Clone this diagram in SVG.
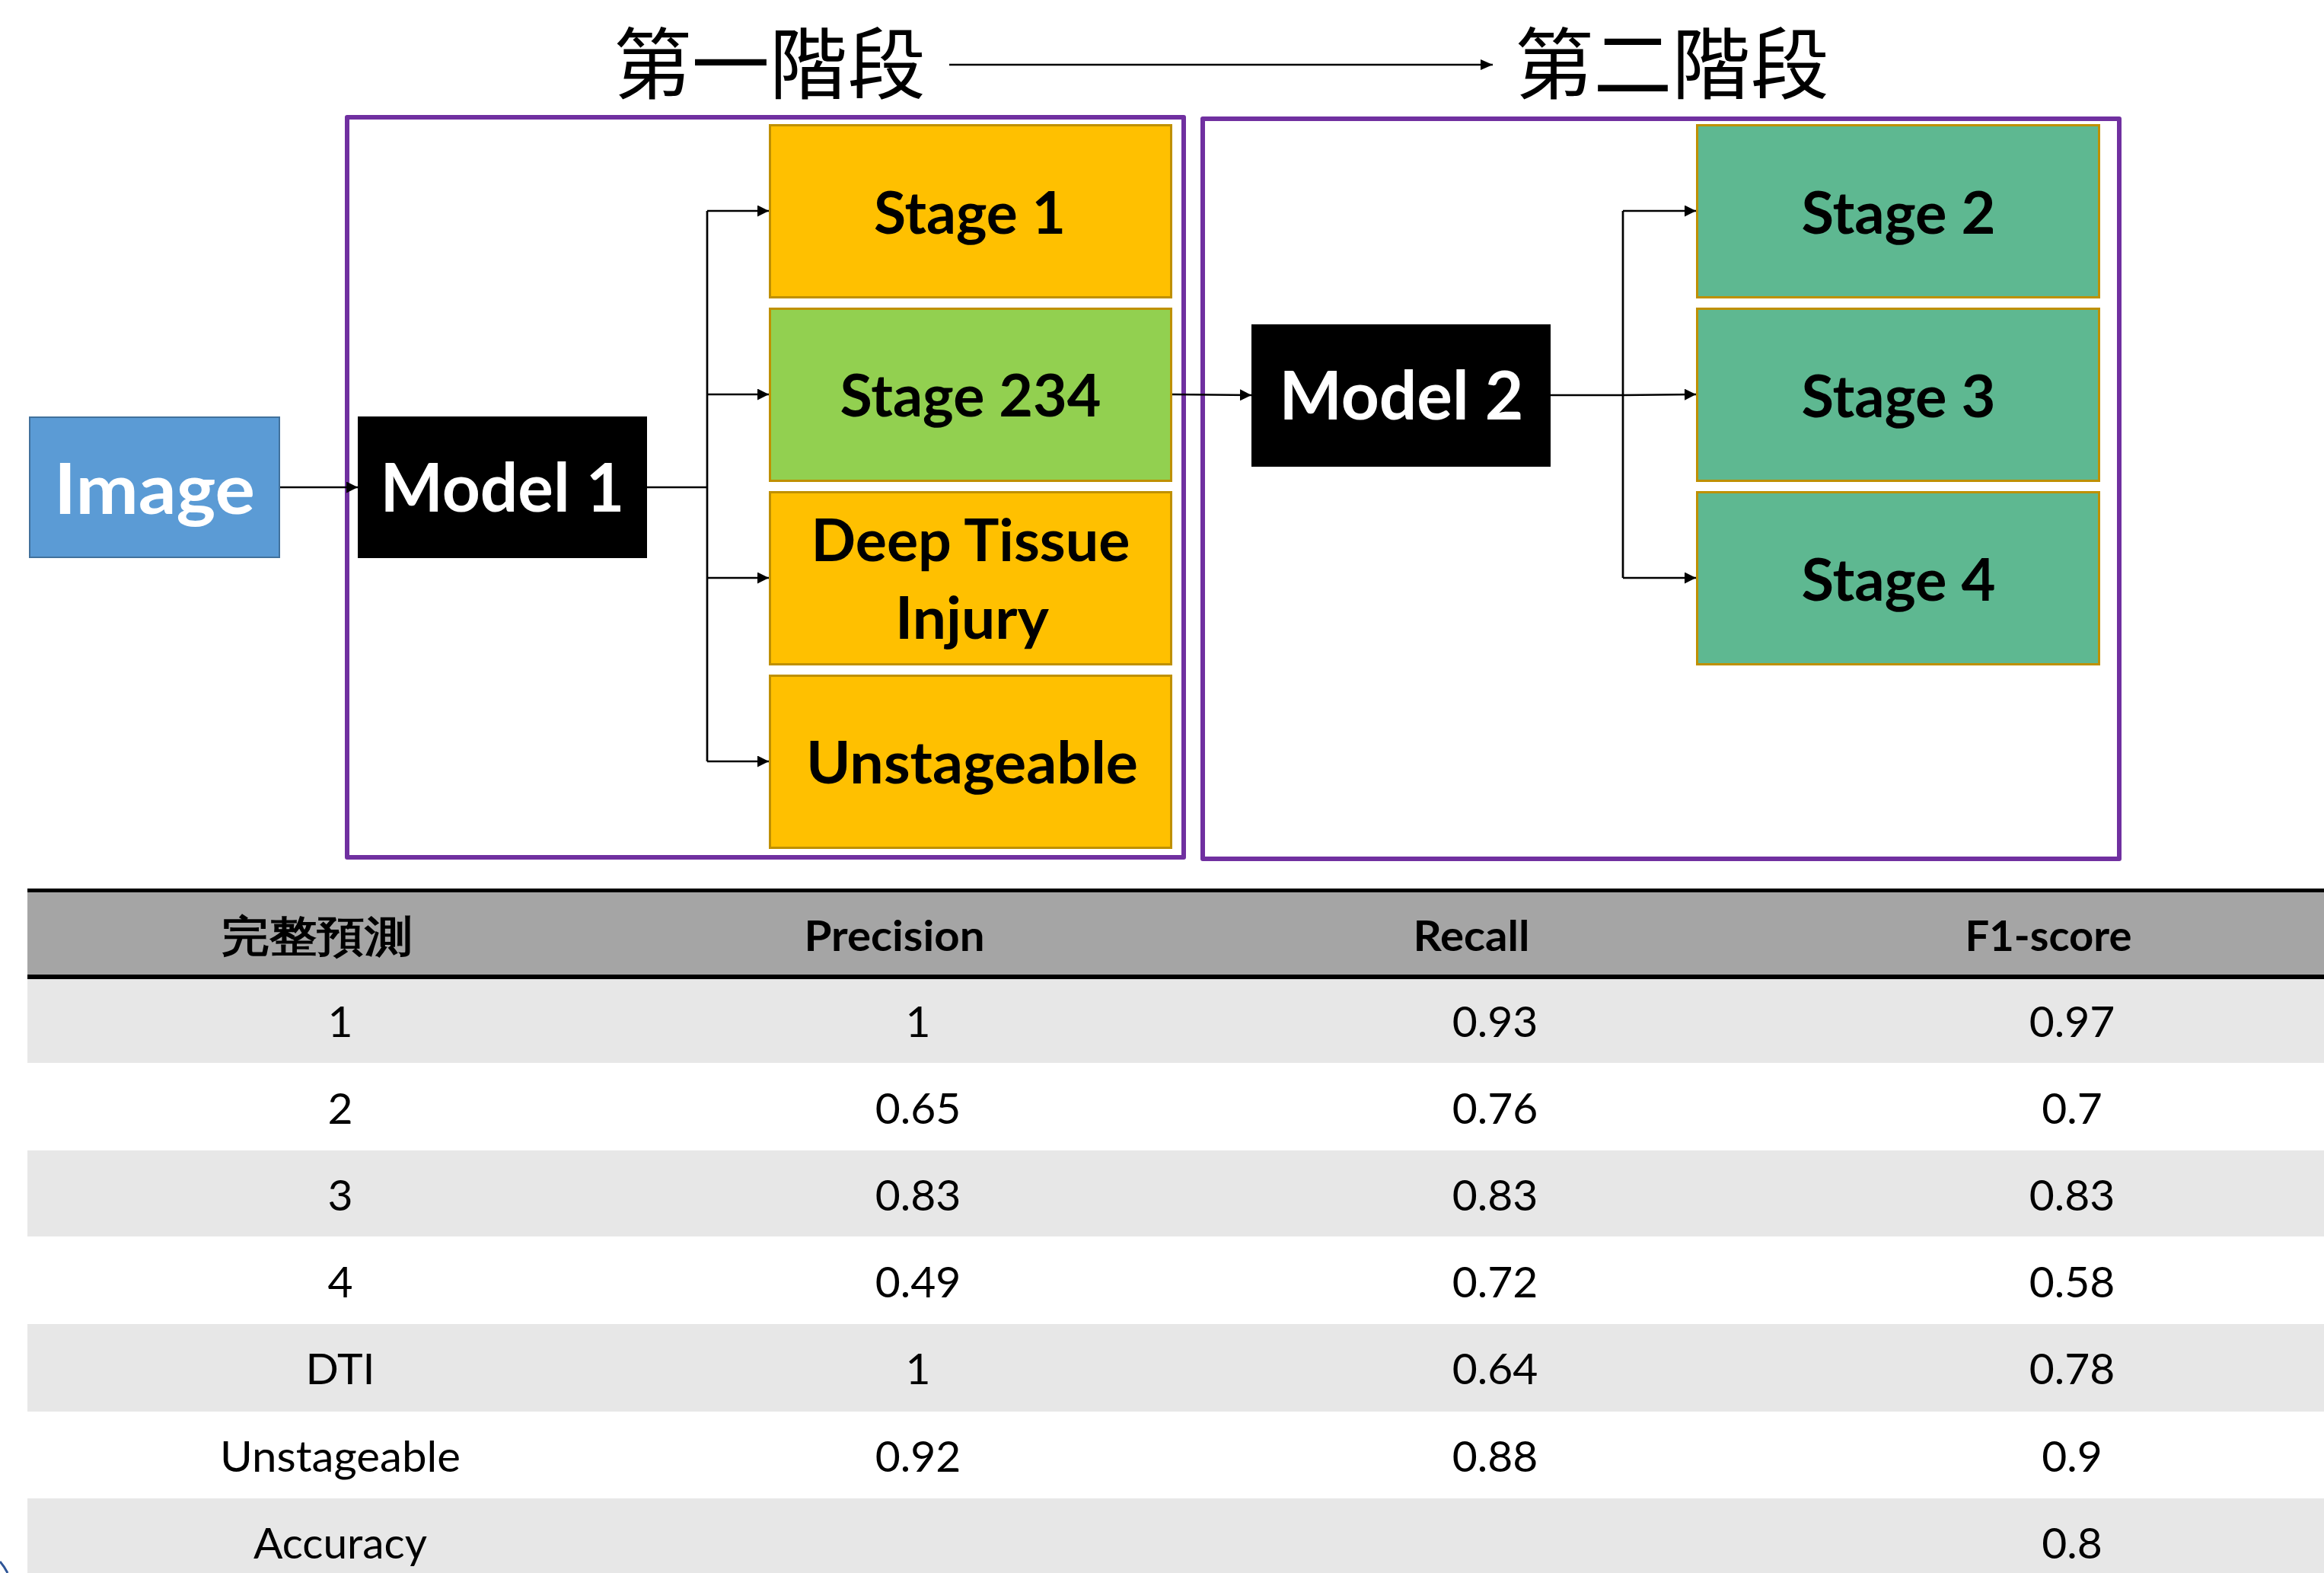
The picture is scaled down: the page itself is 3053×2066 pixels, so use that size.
<svg xmlns="http://www.w3.org/2000/svg" width="3053" height="2066" viewBox="0 0 3053 2066">
<style>
.lbl{font-family:Lato,"Liberation Sans",sans-serif;font-weight:700;text-anchor:middle}
.blk{fill:#000}
.wht{fill:#fff}
.cjk{font-family:"Noto Sans CJK TC","Noto Sans CJK SC",sans-serif;font-weight:400;text-anchor:start}
.stg{stroke:#BF9000;stroke-width:3}
.conn{fill:none;stroke:#000;stroke-width:2.7}
.grp{fill:none;stroke:#7030A0;stroke-width:6;stroke-linejoin:round}
.td{font-family:Lato,"Liberation Sans",sans-serif;font-size:57px;text-anchor:middle;fill:#000}
.th{font-family:Lato,"Liberation Sans",sans-serif;font-size:56px;font-weight:700;text-anchor:middle;fill:#000}
</style>
<defs>
<marker id="arr" markerUnits="userSpaceOnUse" markerWidth="15" markerHeight="15" refX="15" refY="7.5" orient="auto">
<path d="M0,0 L15,7.5 L0,15 z" fill="#000"/>
</marker>
<marker id="arrT" markerUnits="userSpaceOnUse" markerWidth="16" markerHeight="14" refX="16" refY="7" orient="auto">
<path d="M0,0 L16,7 L0,14 z" fill="#000"/>
</marker>
</defs>
<rect width="3053" height="2066" fill="#fff"/>

<g id="title">
<text class="cjk" x="806" y="122" font-size="102" textLength="410" lengthAdjust="spacingAndGlyphs">第一階段</text>
<text class="cjk" x="1990" y="122" font-size="102" textLength="413" lengthAdjust="spacingAndGlyphs">第二階段</text>
</g>

<g id="stage-groups">
<rect id="group1" class="grp" x="456" y="154" width="1099" height="972"/>
<rect id="group2" class="grp" x="1580" y="156" width="1204" height="972"/>
</g>

<g id="connectors">
<line class="conn" x1="1247" y1="85" x2="1961" y2="85" marker-end="url(#arrT)"/>
<line class="conn" x1="368" y1="640" x2="470" y2="640" marker-end="url(#arr)"/>
<line class="conn" x1="850" y1="640" x2="929" y2="640"/>
<line class="conn" x1="929" y1="277" x2="929" y2="1000"/>
<line class="conn" x1="929" y1="277" x2="1010" y2="277" marker-end="url(#arr)"/>
<line class="conn" x1="929" y1="518" x2="1010" y2="518" marker-end="url(#arr)"/>
<line class="conn" x1="929" y1="759" x2="1010" y2="759" marker-end="url(#arr)"/>
<line class="conn" x1="929" y1="1000" x2="1010" y2="1000" marker-end="url(#arr)"/>
<line class="conn" x1="1540" y1="518" x2="1644" y2="519" marker-end="url(#arr)"/>
<line class="conn" x1="2037" y1="519" x2="2132" y2="519"/>
<line class="conn" x1="2132" y1="277" x2="2132" y2="759"/>
<line class="conn" x1="2132" y1="277" x2="2228" y2="277" marker-end="url(#arr)"/>
<line class="conn" x1="2132" y1="519" x2="2228" y2="518" marker-end="url(#arr)"/>
<line class="conn" x1="2132" y1="759" x2="2228" y2="759" marker-end="url(#arr)"/>
</g>

<g id="image">
<rect x="39" y="548" width="328" height="184" fill="#5B9BD5" stroke="#41719C" stroke-width="2"/>
<text class="lbl wht" x="203" y="675" font-size="92" textLength="264" lengthAdjust="spacingAndGlyphs">Image</text>
</g>
<g id="model1">
<rect x="470" y="547" width="380" height="186" fill="#000"/>
<text class="lbl wht" x="660" y="672" font-size="88" textLength="321" lengthAdjust="spacingAndGlyphs">Model 1</text>
</g>
<g id="stage1">
<rect class="stg" x="1011.5" y="164.5" width="527" height="226" fill="#FFC000"/>
<text class="lbl blk" x="1274" y="307" font-size="76" textLength="252" lengthAdjust="spacingAndGlyphs">Stage 1</text>
</g>
<g id="stage234">
<rect class="stg" x="1011.5" y="405.5" width="527" height="226" fill="#92D050"/>
<text class="lbl blk" x="1275" y="547" font-size="76" textLength="343" lengthAdjust="spacingAndGlyphs">Stage 234</text>
</g>
<g id="dti">
<rect class="stg" x="1011.5" y="646.5" width="527" height="226" fill="#FFC000"/>
<text class="lbl blk" x="1275" y="737" font-size="76" textLength="419" lengthAdjust="spacingAndGlyphs">Deep Tissue</text>
<text class="lbl blk" x="1277" y="839" font-size="76" textLength="202" lengthAdjust="spacingAndGlyphs">Injury</text>
</g>
<g id="unstageable">
<rect class="stg" x="1011.5" y="887.5" width="527" height="226" fill="#FFC000"/>
<text class="lbl blk" x="1277" y="1029" font-size="76" textLength="436" lengthAdjust="spacingAndGlyphs">Unstageable</text>
</g>
<g id="model2">
<rect x="1644" y="426" width="393" height="187" fill="#000"/>
<text class="lbl wht" x="1841" y="551" font-size="88" textLength="321" lengthAdjust="spacingAndGlyphs">Model 2</text>
</g>
<g id="stage2">
<rect class="stg" x="2229.5" y="164.5" width="528" height="226" fill="#5EB891"/>
<text class="lbl blk" x="2494" y="307" font-size="76" textLength="255" lengthAdjust="spacingAndGlyphs">Stage 2</text>
</g>
<g id="stage3">
<rect class="stg" x="2229.5" y="405.5" width="528" height="226" fill="#5EB891"/>
<text class="lbl blk" x="2494" y="548" font-size="76" textLength="255" lengthAdjust="spacingAndGlyphs">Stage 3</text>
</g>
<g id="stage4">
<rect class="stg" x="2229.5" y="646.5" width="528" height="226" fill="#5EB891"/>
<text class="lbl blk" x="2494" y="789" font-size="76" textLength="255" lengthAdjust="spacingAndGlyphs">Stage 4</text>
</g>

<g id="table">
<rect x="36" y="1172" width="3017" height="108" fill="#A5A5A5"/>
<rect x="36" y="1167" width="3017" height="5" fill="#000"/>
<rect x="36" y="1280" width="3017" height="6" fill="#000"/>
<rect x="36" y="1286" width="3017" height="110" fill="#E7E7E7"/>
<rect x="36" y="1511" width="3017" height="113" fill="#E7E7E7"/>
<rect x="36" y="1739" width="3017" height="115" fill="#E7E7E7"/>
<rect x="36" y="1968" width="3017" height="98" fill="#E7E7E7"/>
<text class="th" x="416" y="1249" font-family="'Noto Sans CJK TC',sans-serif" textLength="250" lengthAdjust="spacingAndGlyphs">完整預測</text>
<text class="th" x="1175" y="1249" textLength="237" lengthAdjust="spacingAndGlyphs">Precision</text>
<text class="th" x="1933" y="1249" textLength="153" lengthAdjust="spacingAndGlyphs">Recall</text>
<text class="th" x="2691" y="1249" textLength="219" lengthAdjust="spacingAndGlyphs">F1-score</text>
<g>
<text class="td" x="447" y="1362">1</text><text class="td" x="1206" y="1362">1</text><text class="td" x="1964" y="1362">0.93</text><text class="td" x="2722" y="1362">0.97</text>
<text class="td" x="447" y="1476">2</text><text class="td" x="1206" y="1476">0.65</text><text class="td" x="1964" y="1476">0.76</text><text class="td" x="2722" y="1476">0.7</text>
<text class="td" x="447" y="1590">3</text><text class="td" x="1206" y="1590">0.83</text><text class="td" x="1964" y="1590">0.83</text><text class="td" x="2722" y="1590">0.83</text>
<text class="td" x="447" y="1704">4</text><text class="td" x="1206" y="1704">0.49</text><text class="td" x="1964" y="1704">0.72</text><text class="td" x="2722" y="1704">0.58</text>
<text class="td" x="447" y="1818">DTI</text><text class="td" x="1206" y="1818">1</text><text class="td" x="1964" y="1818">0.64</text><text class="td" x="2722" y="1818">0.78</text>
<text class="td" x="447" y="1933" textLength="316" lengthAdjust="spacingAndGlyphs">Unstageable</text><text class="td" x="1206" y="1933">0.92</text><text class="td" x="1964" y="1933">0.88</text><text class="td" x="2722" y="1933">0.9</text>
<text class="td" x="447" y="2047" textLength="228" lengthAdjust="spacingAndGlyphs">Accuracy</text><text class="td" x="2722" y="2047">0.8</text>
</g>
</g>
<path d="M0,2051 Q6,2058 10,2066" fill="none" stroke="#2F5597" stroke-width="3"/>
</svg>
